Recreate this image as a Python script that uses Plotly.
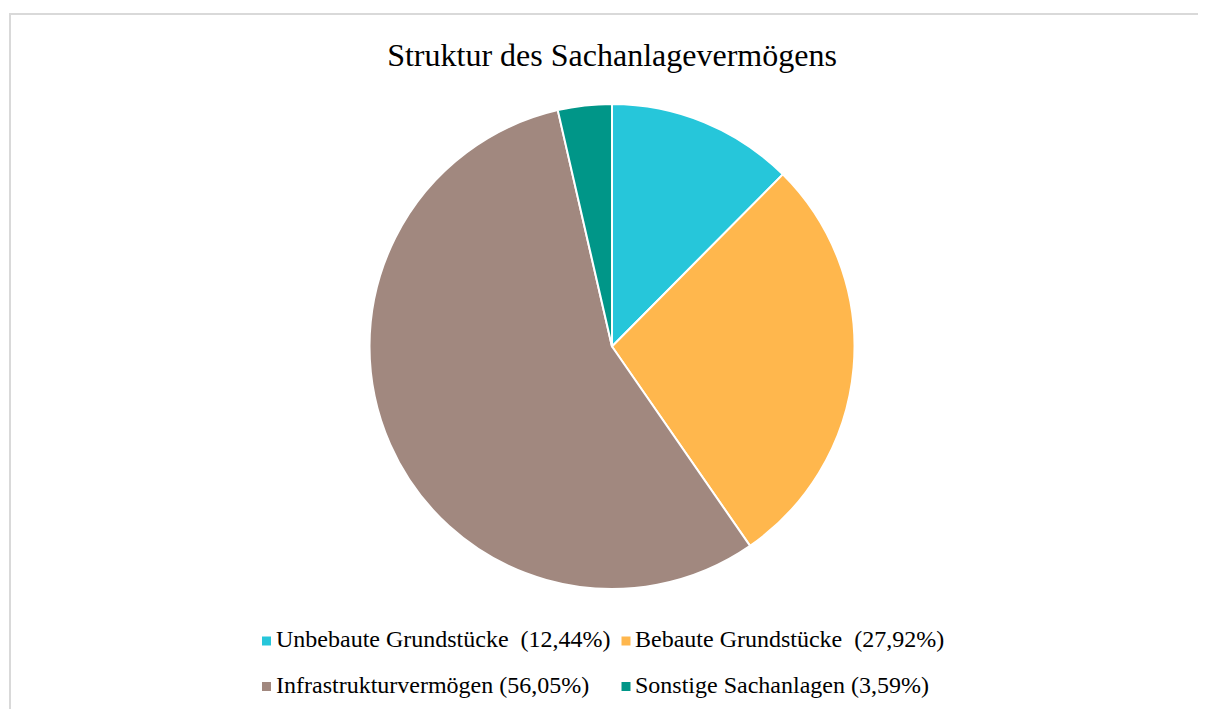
import plotly.graph_objects as go

# Data
categories = ["Unbebaute Grundstücke", "Bebaute Grundstücke", "Infrastrukturvermögen", "Sonstige Sachanlagen"]
shares = [12.44, 27.92, 56.05, 3.59]
legend_labels = ["Unbebaute Grundstücke  (12,44%)", "Bebaute Grundstücke  (27,92%)",
                 "Infrastrukturvermögen (56,05%)", "Sonstige Sachanlagen (3,59%)"]
colors = ["#26C6DA", "#FFB74D", "#A1887F", "#009688"]

W, H = 1206, 709
OFF = 8  # page body margin
FONT = "Liberation Serif, Times New Roman, serif"


def px_x(v):
    return (v - OFF) / W


def px_y(v):
    return 1 - (v - OFF) / H


fig = go.Figure()
cx, cy, r = 612, 346.5, 242.5
fig.add_trace(go.Pie(
    labels=categories, values=shares, sort=False, direction="clockwise", rotation=0,
    marker=dict(colors=colors, line=dict(color="white", width=2)),
    textinfo="none", hoverinfo="label+percent", showlegend=False,
    domain=dict(x=[px_x(cx - r), px_x(cx + r)], y=[px_y(cy + r), px_y(cy - r)]),
))

# Legend (manual, two rows)
pos = [(266.5, 641), (626, 641), (266.5, 686.5), (626, 686.5)]
shapes = [dict(type="rect", xref="paper", yref="paper", x0=px_x(10), x1=1.01, y0=-0.05, y1=px_y(14),
               line=dict(color="#D9D9D9", width=2), fillcolor="rgba(0,0,0,0)", layer="below")]
annotations = []
for (px, py), lab, col in zip(pos, legend_labels, colors):
    shapes.append(dict(type="rect", xref="paper", yref="paper",
                       x0=px_x(px - 4.5), x1=px_x(px + 4.5), y0=px_y(py + 4.5), y1=px_y(py - 4.5),
                       fillcolor=col, line=dict(width=0)))
    annotations.append(dict(text=lab, xref="paper", yref="paper", x=px_x(px + 7), y=px_y(py - 2),
                            xanchor="left", yanchor="middle", showarrow=False,
                            font=dict(family=FONT, size=24, color="#000000")))

fig.update_layout(
    width=W, height=H,
    margin=dict(l=0, r=0, t=0, b=0),
    paper_bgcolor="white", plot_bgcolor="white",
    title=dict(text="Struktur des Sachanlagevermögens", x=px_x(612), xanchor="center", y=px_y(55), yanchor="middle",
               font=dict(family=FONT, size=32, color="#000000")),
    shapes=shapes, annotations=annotations,
)

fig.write_html("out.html")
